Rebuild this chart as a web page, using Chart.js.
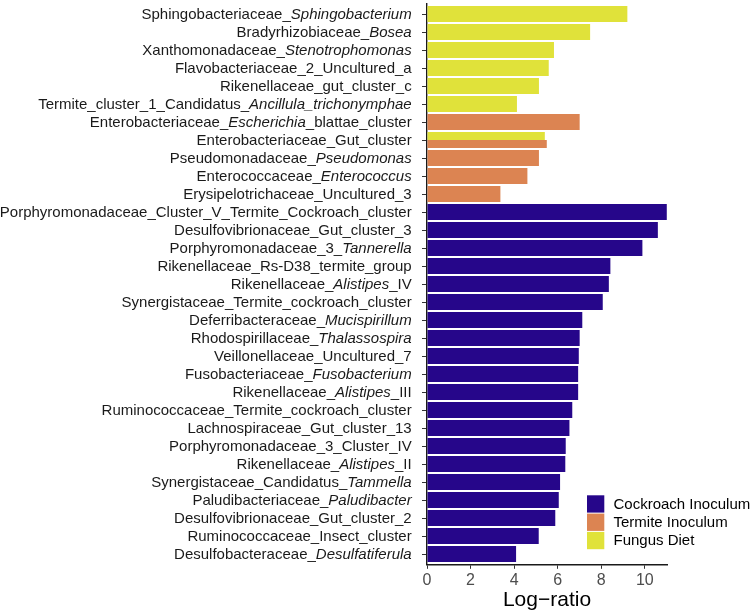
<!DOCTYPE html>
<html><head><meta charset="utf-8">
<script src="https://cdn.jsdelivr.net/npm/chart.js@4"></script>
<style>html,body{margin:0;padding:0;background:#fff}</style>
</head><body>
<canvas id="c" width="750" height="613"></canvas>
<script>
// Category labels, top to bottom. Text between * is italic.
const categories = [
  "Sphingobacteriaceae_*Sphingobacterium*",
  "Bradyrhizobiaceae_*Bosea*",
  "Xanthomonadaceae_*Stenotrophomonas*",
  "Flavobacteriaceae_2_Uncultured_a",
  "Rikenellaceae_gut_cluster_c",
  "Termite_cluster_1_Candidatus_*Ancillula_trichonymphae*",
  "Enterobacteriaceae_*Escherichia*_blattae_cluster",
  "Enterobacteriaceae_Gut_cluster",
  "Pseudomonadaceae_*Pseudomonas*",
  "Enterococcaceae_*Enterococcus*",
  "Erysipelotrichaceae_Uncultured_3",
  "Porphyromonadaceae_Cluster_V_Termite_Cockroach_cluster",
  "Desulfovibrionaceae_Gut_cluster_3",
  "Porphyromonadaceae_3_*Tannerella*",
  "Rikenellaceae_Rs-D38_termite_group",
  "Rikenellaceae_*Alistipes*_IV",
  "Synergistaceae_Termite_cockroach_cluster",
  "Deferribacteraceae_*Mucispirillum*",
  "Rhodospirillaceae_*Thalassospira*",
  "Veillonellaceae_Uncultured_7",
  "Fusobacteriaceae_*Fusobacterium*",
  "Rikenellaceae_*Alistipes*_III",
  "Ruminococcaceae_Termite_cockroach_cluster",
  "Lachnospiraceae_Gut_cluster_13",
  "Porphyromonadaceae_3_Cluster_IV",
  "Rikenellaceae_*Alistipes*_II",
  "Synergistaceae_Candidatus_*Tammella*",
  "Paludibacteriaceae_*Paludibacter*",
  "Desulfovibrionaceae_Gut_cluster_2",
  "Ruminococcaceae_Insect_cluster",
  "Desulfobacteraceae_*Desulfatiferula*"
];
const fungusDiet = [9.20, 7.49, 5.83, 5.59, 5.14, 4.13, null, 5.41, null, null, null,
  null, null, null, null, null, null, null, null, null, null, null, null, null, null, null, null, null, null, null, null];
const termiteInoculum = [null, null, null, null, null, null, 7.01, 5.50, 5.14, 4.61, 3.37,
  null, null, null, null, null, null, null, null, null, null, null, null, null, null, null, null, null, null, null, null];
const cockroachInoculum = [null, null, null, null, null, null, null, null, null, null, null,
  11.01, 10.60, 9.89, 8.42, 8.35, 8.07, 7.13, 7.01, 6.97, 6.94, 6.94, 6.67, 6.54, 6.37, 6.35, 6.11, 6.05, 5.89, 5.13, 4.09];
const seriesNames = ["Cockroach Inoculum", "Termite Inoculum", "Fungus Diet"];
const seriesColors = ["#26068A", "#DC8452", "#E0E23A"];
const xTicks = [0, 2, 4, 6, 8, 10];
const xTitle = "Log\u2212ratio";

const FONT = '"Liberation Sans", Arial, Helvetica, sans-serif';

const richLabels = {
  id: 'richLabels',
  afterDraw(chart) {
    const ctx = chart.ctx, ys = chart.scales.y, ca = chart.chartArea;
    ctx.save();
    ctx.textBaseline = 'middle';
    ctx.textAlign = 'left';
    ctx.fillStyle = '#1a1a1a';
    const right = ca.left - 15.3;
    categories.forEach((lab, i) => {
      const parts = lab.split('*');
      const fonts = parts.map((p, k) => (k % 2 ? 'italic ' : '') + '15px ' + FONT);
      let w = 0;
      parts.forEach((p, k) => { ctx.font = fonts[k]; w += ctx.measureText(p).width; });
      let x = right - w;
      const y = ys.getPixelForValue(i) + 0.5;
      parts.forEach((p, k) => { ctx.font = fonts[k]; ctx.fillText(p, x, y); x += ctx.measureText(p).width; });
    });
    // legend
    const lx = ca.right - 80, ly = ca.bottom - 69.5, box = 17.3, gap = 18.3;
    ctx.font = '15px ' + FONT;
    seriesNames.forEach((n, k) => {
      ctx.fillStyle = seriesColors[k];
      ctx.fillRect(lx, ly + k * gap, box, box);
      ctx.fillStyle = '#000';
      ctx.fillText(n, lx + 26.5, ly + k * gap + box / 2 + 0.5);
    });
    ctx.restore();
  }
};

new Chart(document.getElementById('c'), {
  type: 'bar',
  data: {
    labels: categories,
    datasets: [
      { label: seriesNames[2], data: fungusDiet, backgroundColor: seriesColors[2] },
      { label: seriesNames[1], data: termiteInoculum, backgroundColor: seriesColors[1] },
      { label: seriesNames[0], data: cockroachInoculum, backgroundColor: seriesColors[0] }
    ]
  },
  options: {
    indexAxis: 'y',
    responsive: false,
    animation: false,
    devicePixelRatio: 1,
    datasets: { bar: { skipNull: true, categoryPercentage: 0.9, barPercentage: 1.0, borderWidth: 0 } },
    layout: { padding: { left: 417, right: 83, top: 3.2, bottom: 0 } },
    plugins: { legend: { display: false }, tooltip: { enabled: false } },
    scales: {
      y: {
        type: 'category', offset: true,
        grid: { display: true, offset: false, drawOnChartArea: false, drawTicks: true, tickLength: 5, color: '#333', lineWidth: 1 },
        border: { display: true, color: '#1a1a1a', width: 1.4 },
        ticks: { display: false },
        afterFit(s) { s.width = 10; },
        afterUpdate(s) { s._startValue = -0.6; s._valueRange = s.getLabels().length + 0.2; }
      },
      x: {
        type: 'linear', min: 0, max: 11.02,
        grid: { drawOnChartArea: false, drawTicks: true, tickLength: 4, color: '#333', lineWidth: 1 },
        border: { display: true, color: '#1a1a1a', width: 1.4 },
        afterBuildTicks(s) { s.ticks = xTicks.map(v => ({ value: v })); },
        ticks: { color: '#4d4d4d', font: { size: 16, family: FONT }, padding: 2, maxRotation: 0 },
        title: { display: true, text: xTitle, color: '#000', font: { size: 21, family: FONT }, padding: { top: 0, bottom: 0 } },
        afterFit(s) { s.height = 48.2; }
      }
    }
  },
  plugins: [richLabels]
});
</script>
</body></html>
